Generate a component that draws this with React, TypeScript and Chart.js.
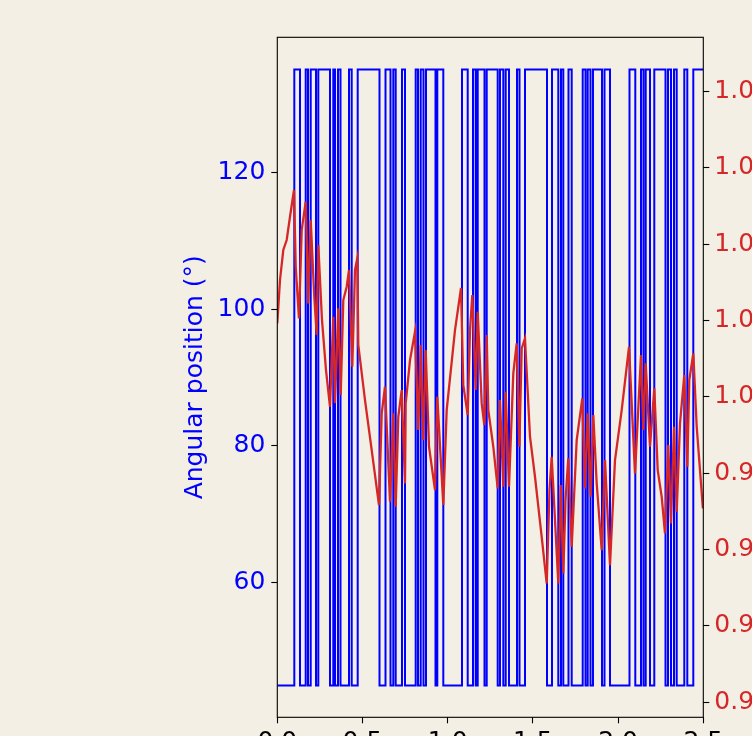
import { useEffect, useRef } from 'react';
import { Chart, registerables } from 'chart.js';

Chart.register(...registerables);

const BG = '#f3efe4';
const BLUE = '#0000ff';
const RED = '#d62728';
const FONT = 'DejaVu Sans';

const xTicks = [0, 0.5, 1.0, 1.5, 2.0, 2.5];
const angleTicks = [60, 80, 100, 120];
const ratioTicks = [0.96, 0.97, 0.98, 0.99, 1.0, 1.01, 1.02, 1.03, 1.04];

// Blue step signal: time (s) at which each level starts
const switchTimes = [
  0, 0.0998, 0.1332, 0.1667, 0.1802, 0.196, 0.2271, 0.2406, 0.3093, 0.3286,
  0.3386, 0.3562, 0.3709, 0.4208, 0.4366, 0.4718, 0.5998, 0.635, 0.6643, 0.6808,
  0.6948, 0.7318, 0.7494, 0.8122, 0.8257, 0.8415, 0.858, 0.8726, 0.9284, 0.939,
  0.9742, 1.0839, 1.1174, 1.1485, 1.1643, 1.1761, 1.216, 1.2289, 1.2934, 1.3069,
  1.3263, 1.3404, 1.3597, 1.4067, 1.4214, 1.4536, 1.5827, 1.6121, 1.6491, 1.6649,
  1.6784, 1.7089, 1.7277, 1.7923, 1.8087, 1.8216, 1.838, 1.8527, 1.9055, 1.9202,
  1.9525, 2.0669, 2.1009, 2.1344, 2.1491, 2.162, 2.1872, 2.2124, 2.2782, 2.2928,
  2.3105, 2.3281, 2.3439, 2.3885, 2.4061, 2.4413, 2.5,
];
const switchAngles = [
  45, 135, 45, 135, 45, 135, 45, 135, 45, 135,
  45, 135, 45, 135, 45, 135, 45, 135, 45, 135,
  45, 135, 45, 135, 45, 135, 45, 135, 45, 135,
  45, 135, 45, 135, 45, 135, 45, 135, 45, 135,
  45, 135, 45, 135, 45, 135, 45, 135, 45, 135,
  45, 135, 45, 135, 45, 135, 45, 135, 45, 135,
  45, 135, 45, 135, 45, 135, 45, 135, 45, 135,
  45, 135, 45, 135, 45, 135, 135,
];

// Red trace (right axis)
const ratioTimes = [
  0, 0.0158, 0.0352, 0.0552, 0.0745, 0.098, 0.108, 0.1273, 0.1432, 0.1667,
  0.1819, 0.196, 0.2171, 0.2312, 0.2406, 0.2623, 0.2858, 0.3093, 0.3286, 0.3386,
  0.358, 0.3721, 0.3873, 0.4073, 0.4208, 0.4401, 0.456, 0.4695, 0.4754, 0.5147,
  0.554, 0.5968, 0.6127, 0.632, 0.6614, 0.6808, 0.6948, 0.7101, 0.73, 0.7494,
  0.7535, 0.7788, 0.8081, 0.8275, 0.8415, 0.8568, 0.8709, 0.8903, 0.9255, 0.939,
  0.9742, 0.9941, 1.0428, 1.0781, 1.0915, 1.1174, 1.1309, 1.1444, 1.1643, 1.1761,
  1.1995, 1.2148, 1.2289, 1.2383, 1.2676, 1.2934, 1.3069, 1.3263, 1.3404, 1.3597,
  1.385, 1.4049, 1.4202, 1.4343, 1.4536, 1.483, 1.5123, 1.5516, 1.581, 1.5974,
  1.6103, 1.6491, 1.6632, 1.6784, 1.6913, 1.7077, 1.7277, 1.757, 1.7899, 1.8057,
  1.8216, 1.8392, 1.8545, 1.8744, 1.9038, 1.9231, 1.9525, 1.9818, 2.0211, 2.064,
  2.0992, 2.1344, 2.1479, 2.162, 2.1872, 2.2124, 2.2324, 2.2559, 2.2752, 2.2946,
  2.3105, 2.3281, 2.3439, 2.3633, 2.3885, 2.4061, 2.4178, 2.4413, 2.4613, 2.4975,
];
const ratioValues = [
  1.00962, 1.0153, 1.01923, 1.02054, 1.02359, 1.02709, 1.01704, 1.01028, 1.02185, 1.02556,
  1.01224, 1.02316, 1.01311, 1.00809, 1.01988, 1.01005, 1.0035, 0.99869, 1.01048, 0.99917,
  1.01159, 1.00022, 1.01267, 1.01442, 1.01661, 1.00393, 1.01661, 1.01814, 1.00678, 0.99957,
  0.99301, 0.98581, 0.99782, 1.00131, 0.98624, 0.99782, 0.98558, 0.99738, 1.00088, 0.98865,
  0.99913, 1.00481, 1.00852, 0.99564, 1.00678, 0.99433, 1.00612, 0.99345, 0.98777, 1.0,
  0.98581, 0.99826, 1.00874, 1.01425, 1.00153, 0.9976, 1.00874, 1.01333, 1.00088, 1.01114,
  0.99913, 0.99629, 1.00809, 0.99826, 0.99345, 0.98799, 0.99957, 0.9882, 1.00066, 0.9882,
  1.00307, 1.007, 0.99345, 1.00634, 1.00765, 0.99476, 0.98952, 0.98165, 0.97554, 0.98777,
  0.99214, 0.97554, 0.98843, 0.97685, 0.98646, 0.99193, 0.98034, 0.99433, 0.99979, 0.98799,
  0.99782, 0.98689, 0.9976, 0.98865, 0.97991, 0.9917, 0.97794, 0.9917, 0.99826, 1.00655,
  0.98996, 1.00547, 0.99564, 1.00438, 0.99345, 1.0011, 0.99039, 0.98689, 0.9821, 0.99367,
  0.98341, 0.99607, 0.98493, 0.99651, 1.00284, 0.99083, 1.00219, 1.00569, 0.99607, 0.98537,
];

const CANVAS_W = 1000;
const CANVAS_H = 800;
const AREA = { left: 277.3, right: 703.3, top: 37.3, bottom: 717.3 };

export default function App() {
  const ref = useRef<HTMLCanvasElement>(null);

  useEffect(() => {
    const canvas = ref.current;
    if (!canvas) return;

    const framePlugin = {
      id: 'frame',
      beforeDraw(chart: any) {
        const { ctx, width, height } = chart;
        ctx.save();
        ctx.fillStyle = BG;
        ctx.fillRect(0, 0, width, height);
        ctx.restore();
      },
      afterDatasetsDraw(chart: any) {
        const { ctx, chartArea: a } = chart;
        ctx.save();
        ctx.strokeStyle = '#000';
        ctx.lineWidth = 1.1;
        ctx.strokeRect(a.left, a.top, a.right - a.left, a.bottom - a.top);
        ctx.restore();
      },
    };

    const gridOpts = {
      drawOnChartArea: false,
      drawTicks: true,
      tickLength: 6,
      tickColor: '#000',
      tickWidth: 1.1,
    };

    const chart = new Chart(canvas, {
      type: 'line',
      data: {
        datasets: [
          {
            label: 'ratio',
            data: ratioTimes.map((t, i) => ({ x: t, y: ratioValues[i] })),
            yAxisID: 'y1',
            borderColor: RED,
            borderWidth: 2.3,
            pointRadius: 0,
            tension: 0,
            order: 1,
          },
          {
            label: 'angle',
            data: switchTimes.map((t, i) => ({ x: t, y: switchAngles[i] })),
            yAxisID: 'y',
            borderColor: BLUE,
            borderWidth: 2,
            pointRadius: 0,
            stepped: 'before',
            order: 2,
          },
        ],
      },
      options: {
        responsive: false,
        animation: false,
        devicePixelRatio: 1,
        layout: { padding: { top: AREA.top, left: 0, right: 0, bottom: 0 } },
        plugins: { legend: { display: false }, tooltip: { enabled: false } },
        scales: {
          x: {
            type: 'linear',
            position: 'bottom',
            min: 0,
            max: 2.5,
            afterBuildTicks: (s: any) => {
              s.ticks = xTicks.map((v) => ({ value: v }));
            },
            ticks: {
              color: '#000',
              font: { family: FONT, size: 25 },
              padding: 4,
              maxRotation: 0,
              autoSkip: false,
              callback: (v: any) => Number(v).toFixed(1),
            },
            grid: gridOpts,
            border: { display: false },
            afterFit: (s: any) => {
              s.height = CANVAS_H - AREA.bottom;
            },
          },
          y: {
            type: 'linear',
            position: 'left',
            min: 40.35,
            max: 139.7,
            afterBuildTicks: (s: any) => {
              s.ticks = angleTicks.map((v) => ({ value: v }));
            },
            ticks: {
              color: BLUE,
              font: { family: FONT, size: 25 },
              padding: 6,
              callback: (v: any) => String(v),
            },
            grid: gridOpts,
            border: { display: false },
            title: {
              display: true,
              text: 'Angular position (°)',
              color: BLUE,
              font: { family: FONT, size: 25 },
              padding: { top: 180, bottom: 0 },
            },
            afterFit: (s: any) => {
              s.width = AREA.left;
            },
          },
          y1: {
            type: 'linear',
            position: 'right',
            min: 0.958,
            max: 1.0471,
            afterBuildTicks: (s: any) => {
              s.ticks = ratioTicks.map((v) => ({ value: v }));
            },
            ticks: {
              color: RED,
              font: { family: FONT, size: 25 },
              padding: 5,
              callback: (v: any) => Number(v).toFixed(2),
            },
            grid: gridOpts,
            border: { display: false },
            afterFit: (s: any) => {
              s.width = CANVAS_W - AREA.right;
            },
          },
        },
      },
      plugins: [framePlugin],
    } as any);

    return () => chart.destroy();
  }, []);

  return (
    <div
      style={{
        position: 'fixed',
        left: 0,
        top: 0,
        width: '752px',
        height: '736px',
        overflow: 'hidden',
        background: BG,
      }}
    >
      <canvas
        ref={ref}
        width={CANVAS_W}
        height={CANVAS_H}
        style={{ display: 'block', width: CANVAS_W + 'px', height: CANVAS_H + 'px' }}
      />
    </div>
  );
}
